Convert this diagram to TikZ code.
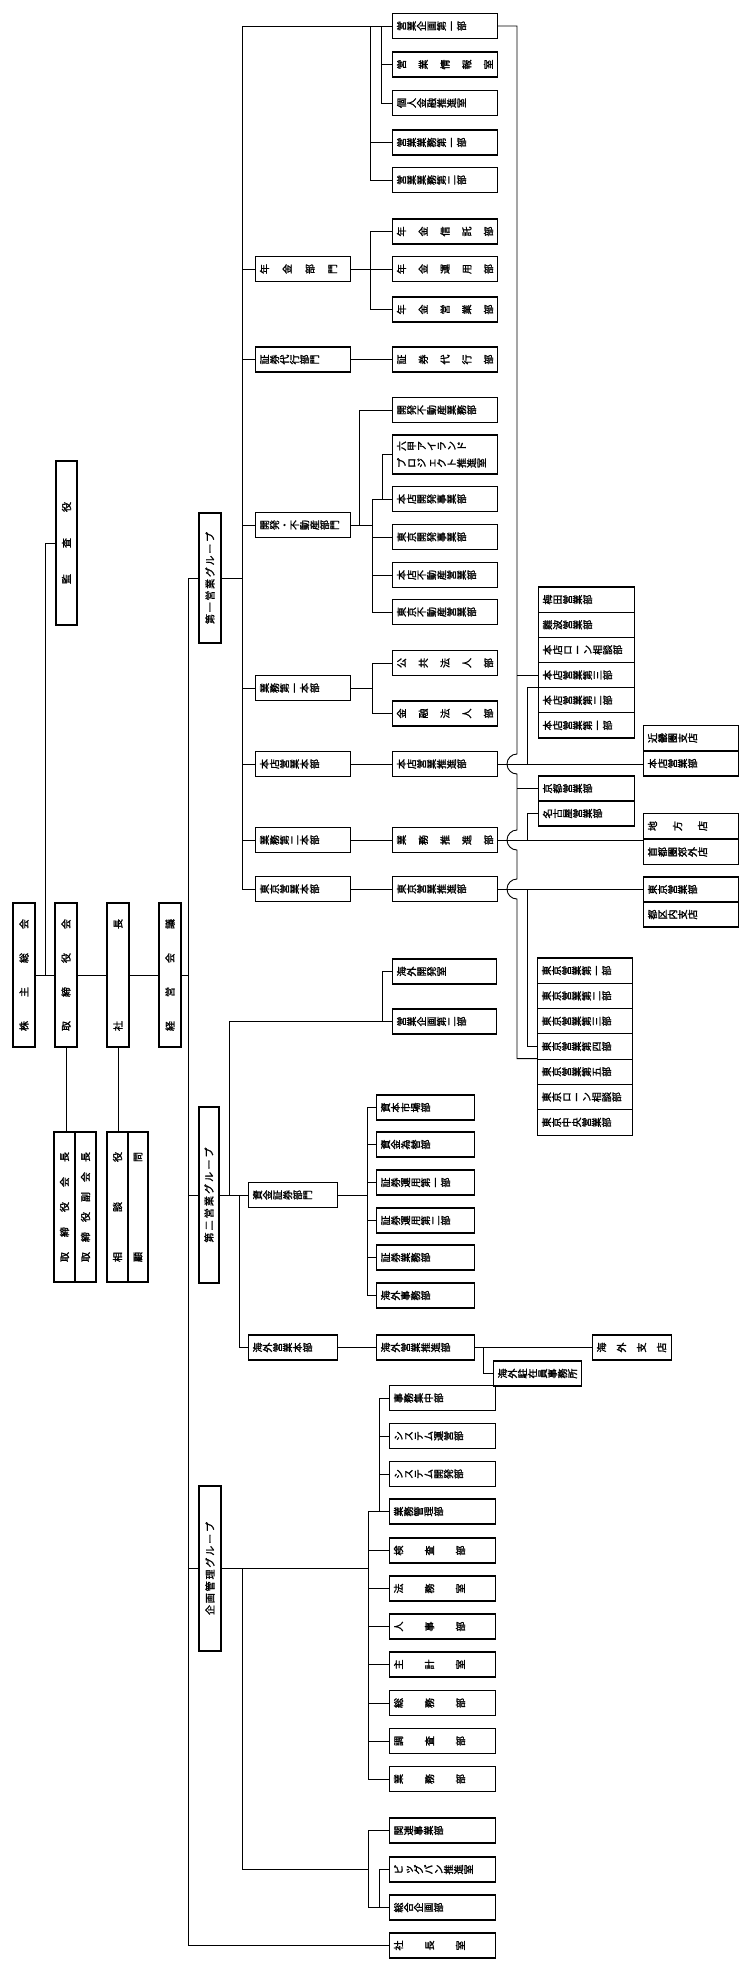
\documentclass[tikz,border=0pt]{standalone}
\usepackage{fontspec}
\usepackage{graphicx}
\newfontfamily\jp{Noto Sans CJK JP}[FakeBold=1.6]

% 縦書き（回転した文字）
\newcommand\chou{ー}
\newcommand\vch[1]{\def\tmpc{#1}\ifx\tmpc\chou\raisebox{0.1em}{ー}\else\rotatebox{90}{\rule[-0.12em]{0pt}{1em}#1}\fi}
\newcommand\vp[1]{\vploop#1\relax}
\def\vploop#1{\ifx#1\relax\else\vch{#1}\expandafter\vploop\fi}
\newcommand\vs[2]{\hbox to #1pt{\vsfirst#2\relax}}
\def\vsfirst#1{\vch{#1}\vsloop}
\def\vsloop#1{\ifx#1\relax\else\hfil\vch{#1}\expandafter\vsloop\fi}
% 横書き（均等割付）
\newcommand\hs[2]{\hbox to #1pt{\hsfirst#2\relax}}
\def\hsfirst#1{#1\hsloop}
\def\hsloop#1{\ifx#1\relax\else\hfil#1\expandafter\hsloop\fi}
% 枠の中身
\newcommand\bxp[2]{\hbox to #1pt{\hskip4pt\vp{#2}\hfil}}
\newcommand\bxs[3]{\hbox to #1pt{\hskip4pt\vs{#2}{#3}\hfil}}

\tikzstyle{every node}=[font=\jp\fontsize{10}{12}\selectfont]
\tikzstyle{waku}=[draw, line width=1.1pt, inner sep=0pt, minimum height=25pt, anchor=west]
\tikzstyle{tate}=[draw, line width=1.1pt, inner sep=0pt]

\begin{document}
\begin{tikzpicture}[x=1pt, y=-1pt, line width=0.9pt]
            \useasboundingbox (0,0) rectangle (741,1965);

            % 左侧：株主総会・取締役会・社長・経営会議
            \node[tate, minimum width=22pt, minimum height=144pt] (kabunushi) at (24,975) {\rotatebox{90}{\hs{112}{株主総会}}};
            \node[tate, minimum width=22pt, minimum height=144pt] (torishimari) at (66,975) {\rotatebox{90}{\hs{112}{取締役会}}};
            \node[tate, minimum width=22pt, minimum height=144pt] (shacho) at (118,975) {\rotatebox{90}{\hs{112}{社長}}};
            \node[tate, minimum width=22pt, minimum height=144pt] (keiei) at (170,975) {\rotatebox{90}{\hs{112}{経営会議}}};
            \node[tate, minimum width=21pt, minimum height=164pt] (kansa) at (66.5,543) {\rotatebox{90}{\hs{82}{監査役}}};
            \node[tate, minimum width=21pt, minimum height=150pt] (kaicho) at (64.5,1207) {\rotatebox{90}{\hs{110}{取締役会長}}};
            \node[tate, minimum width=21pt, minimum height=150pt] (fukukaicho) at (85.5,1207) {\rotatebox{90}{\hs{110}{取締役副会長}}};
            \node[tate, minimum width=21pt, minimum height=150pt] (sodan) at (117.5,1207) {\rotatebox{90}{\hs{110}{相談役}}};
            \node[tate, minimum width=20pt, minimum height=150pt] (komon) at (138,1207) {\rotatebox{90}{\hs{110}{顧問}}};

            \draw (kabunushi) -- (torishimari);
            \draw (torishimari) -- (shacho);
            \draw (shacho) -- (keiei);
            \coordinate (kj) at (45,975);
            \draw (kj) |- (kansa.west);
            \draw (torishimari.south) -- (torishimari.south |- kaicho.north);
            \draw (shacho.south) -- (shacho.south |- sodan.north);

            % グループ
            \node[tate, minimum width=22pt, minimum height=130pt] (g1) at (210,578) {\rotatebox{90}{\hs{92}{第一営業グループ}}};
            \node[tate, minimum width=20pt, minimum height=176pt] (g2) at (209,1195) {\rotatebox{90}{\hs{95}{第二営業グループ}}};
            \node[tate, minimum width=22pt, minimum height=165pt] (g3) at (210,1568.5) {\rotatebox{90}{\hs{93}{企画管理グループ}}};

            % 第一営業グループ：部門
            \node[waku] (nenkinbu) at (255,269) {\bxs{95}{78}{年金部門}};
            \node[waku] (shoken) at (255,359.5) {\bxp{95}{証券代行部門}};
            \node[waku] (kaihatsu) at (255,525) {\bxp{95}{開発・不動産部門}};
            \node[waku] (gyomu1) at (255,688) {\bxp{95}{業務第一本部}};
            \node[waku] (honten) at (255,764) {\bxp{95}{本店営業本部}};
            \node[waku] (gyomu2) at (255,840) {\bxp{95}{業務第二本部}};
            \node[waku] (tokyo) at (255,889) {\bxp{95}{東京営業本部}};

            % 第一営業グループ：部・室
            \node[waku] (kikaku1) at (392,26) {\bxp{105}{営業企画第一部}};
            \node[waku] (joho) at (392,64.5) {\bxs{105}{97}{営業情報室}};
            \node[waku] (kojin) at (392,103) {\bxp{105}{個人金融推進室}};
            \node[waku] (gyogyo1) at (392,142.5) {\bxp{105}{営業業務第一部}};
            \node[waku] (gyogyo2) at (392,180) {\bxp{105}{営業業務第二部}};
            \node[waku] (shintaku) at (392,231.5) {\bxs{105}{97}{年金信託部}};
            \node[waku] (unyo) at (392,269) {\bxs{105}{97}{年金運用部}};
            \node[waku] (eigyo) at (392,309.5) {\bxs{105}{97}{年金営業部}};
            \node[waku] (daiko) at (392,359.5) {\bxs{105}{97}{証券代行部}};
            \node[waku] (kfgyomu) at (392,410) {\bxp{105}{開発不動産業務部}};
            \node[waku, minimum height=39pt] (rokko) at (392,454.5) {\hbox to 105pt{\hskip4pt\vbox{\hbox{\vp{六甲アイランド}}\vskip5pt\hbox{\vp{プロジェクト推進室}}}\hfil}};
            \node[waku] (hkaihatsu) at (392,499) {\bxp{105}{本店開発事業部}};
            \node[waku] (tkaihatsu) at (392,537) {\bxp{105}{東京開発事業部}};
            \node[waku] (hfudosan) at (392,575) {\bxp{105}{本店不動産営業部}};
            \node[waku] (tfudosan) at (392,612) {\bxp{105}{東京不動産営業部}};
            \node[waku] (kokyo) at (392,663) {\bxs{105}{97}{公共法人部}};
            \node[waku] (kinyu) at (392,713.5) {\bxs{105}{97}{金融法人部}};
            \node[waku] (hsuishin) at (392,764) {\bxp{105}{本店営業推進部}};
            \node[waku] (gsuishin) at (392,840) {\bxs{105}{97}{業務推進部}};
            \node[waku] (tsuishin) at (392,889) {\bxp{105}{東京営業推進部}};

            % 営業部・支店
            \node[waku, minimum height=25.2pt] (o1) at (538,599.6) {\bxp{96}{梅田営業部}};
            \node[waku, minimum height=25.2pt] (o2) at (538,624.8) {\bxp{96}{難波営業部}};
            \node[waku, minimum height=25.2pt] (o3) at (538,649.9) {\bxp{96}{本店ローン相談部}};
            \node[waku, minimum height=25.2pt] (o4) at (538,675.1) {\bxp{96}{本店営業第三部}};
            \node[waku, minimum height=25.2pt] (o5) at (538,700.3) {\bxp{96}{本店営業第二部}};
            \node[waku, minimum height=25.2pt] (o6) at (538,725.4) {\bxp{96}{本店営業第一部}};
            \node[waku] (k1) at (538,788.5) {\bxp{96}{京都営業部}};
            \node[waku] (k2) at (538,813.5) {\bxp{96}{名古屋営業部}};
            \node[waku] (kinki) at (643,738) {\bxp{95}{近畿圏支店}};
            \node[waku] (honbu) at (643,763.5) {\bxp{95}{本店営業部}};
            \node[waku] (chiho) at (643,826) {\bxs{95}{60}{地方店}};
            \node[waku] (shuto) at (643,852) {\bxp{95}{首都圏郊外店}};
            \node[waku] (tokyoeigyo) at (643,889.5) {\bxp{95}{東京営業部}};
            \node[waku] (toku) at (643,914.5) {\bxp{95}{都区内支店}};
            \node[waku, minimum height=25.3pt] (t1) at (537,970.6) {\bxp{95}{東京営業第一部}};
            \node[waku, minimum height=25.3pt] (t2) at (537,995.9) {\bxp{95}{東京営業第二部}};
            \node[waku, minimum height=25.3pt] (t3) at (537,1021.2) {\bxp{95}{東京営業第三部}};
            \node[waku, minimum height=25.3pt] (t4) at (537,1046.5) {\bxp{95}{東京営業第四部}};
            \node[waku, minimum height=25.3pt] (t5) at (537,1071.8) {\bxp{95}{東京営業第五部}};
            \node[waku, minimum height=25.3pt] (t6) at (537,1097.1) {\bxp{95}{東京ローン相談部}};
            \node[waku, minimum height=25.3pt] (t7) at (537,1122.4) {\bxp{95}{東京中央営業部}};

            % 第二営業グループ
            \node[waku] (kaihatsushitsu) at (392,971.5) {\bxp{104}{海外開発室}};
            \node[waku] (kikaku2) at (392,1021.5) {\bxp{104}{営業企画第二部}};
            \node[waku] (shikin) at (248,1195) {\bxp{89}{資金証券部門}};
            \node[waku] (kaigai) at (248,1347.5) {\bxp{89}{海外営業本部}};
            \node[waku] (shihon) at (376,1107.5) {\bxp{98}{資本市場部}};
            \node[waku] (kawase) at (376,1144.5) {\bxp{98}{資金為替部}};
            \node[waku] (unyo1) at (376,1182.5) {\bxp{98}{証券運用第一部}};
            \node[waku] (unyo2) at (376,1220.5) {\bxp{98}{証券運用第二部}};
            \node[waku] (shogyo) at (376,1257.5) {\bxp{98}{証券業務部}};
            \node[waku] (jimu) at (376,1295.5) {\bxp{98}{海外事務部}};
            \node[waku] (ksuishin) at (376,1347.5) {\bxp{98}{海外営業推進部}};
            \node[waku] (shiten) at (592,1347.5) {\bxs{79}{70}{海外支店}};
            \node[waku] (chuzai) at (493,1373.5) {\bxp{88}{海外駐在員事務所}};

            % 企画管理グループ
            \node[waku] (jimushu) at (389,1398) {\bxp{106}{事務集中部}};
            \node[waku] (sysunei) at (389,1436) {\bxp{106}{システム運営部}};
            \node[waku] (syskai) at (389,1474) {\bxp{106}{システム開発部}};
            \node[waku] (gkanri) at (389,1511.5) {\bxp{106}{業務管理部}};
            \node[waku] (kensa) at (389,1550.5) {\bxs{106}{72}{検査部}};
            \node[waku] (homu) at (389,1588.5) {\bxs{106}{72}{法務室}};
            \node[waku] (jinji) at (389,1626.5) {\bxs{106}{72}{人事部}};
            \node[waku] (shukei) at (389,1664.5) {\bxs{106}{72}{主計室}};
            \node[waku] (somu) at (389,1703) {\bxs{106}{72}{総務部}};
            \node[waku] (chosa) at (389,1741) {\bxs{106}{72}{調査部}};
            \node[waku] (gyomubu) at (389,1779) {\bxs{106}{72}{業務部}};
            \node[waku] (kanren) at (389,1830.5) {\bxp{106}{関連事業部}};
            \node[waku] (bigban) at (389,1869.5) {\bxp{106}{ビッグバン推進室}};
            \node[waku] (sogo) at (389,1907.5) {\bxp{106}{総合企画部}};
            \node[waku] (shitsu) at (389,1945.5) {\bxs{106}{72}{社長室}};

            % 幹線
            \coordinate (trunk) at (188,0);
            \draw (g1.west) -| (trunk |- shitsu.west) -- (shitsu.west);
            \draw (g2.west) -- (g2.west -| trunk);
            \draw (g3.west) -- (g3.west -| trunk);
            \draw (keiei.east) -- (keiei.east -| trunk);

            % 第一営業グループの線
            \coordinate (b1) at (242,0);
            \draw (kikaku1.west) -| (b1 |- tokyo.west) -- (tokyo.west);
            \draw (g1.east) -- (g1.east -| b1);
            \draw (nenkinbu.west) -- (nenkinbu.west -| b1);
            \draw (shoken.west) -- (shoken.west -| b1);
            \draw (kaihatsu.west) -- (kaihatsu.west -| b1);
            \draw (gyomu1.west) -- (gyomu1.west -| b1);
            \draw (honten.west) -- (honten.west -| b1);
            \draw (gyomu2.west) -- (gyomu2.west -| b1);
            \coordinate (c1) at (370,0);
            \coordinate (c2) at (381,0);
            \draw (c1 |- kikaku1.west) |- (gyogyo2.west);
            \draw (gyogyo1.west) -- (gyogyo1.west -| c1);
            \draw (c2 |- kikaku1.west) |- (kojin.west);
            \draw (joho.west) -- (joho.west -| c2);
            \draw (nenkinbu) -- (unyo);
            \draw (shintaku.west) -| (c1 |- eigyo.west) -- (eigyo.west);
            \draw (shoken) -- (daiko);
            \coordinate (c4) at (359,0);
            \coordinate (c5) at (372,0);
            \coordinate (c6) at (382,0);
            \draw (kaihatsu.east) -- (kaihatsu.east -| c5);
            \draw (c4 |- kaihatsu.east) |- (kfgyomu.west);
            \draw (hkaihatsu.west) -| (c5 |- tfudosan.west) -- (tfudosan.west);
            \draw (tkaihatsu.west) -- (tkaihatsu.west -| c5);
            \draw (hfudosan.west) -- (hfudosan.west -| c5);
            \draw (c6 |- hkaihatsu.west) |- (rokko.west);
            \draw (gyomu1.east) -- (gyomu1.east -| c5);
            \draw (kokyo.west) -| (c5 |- kinyu.west) -- (kinyu.west);
            \draw (honten) -- (hsuishin);
            \draw (gyomu2) -- (gsuishin);
            \draw (tokyo) -- (tsuishin);
            \draw (hsuishin.east) -- (hsuishin.east -| honbu.west);
            \draw (gsuishin.east) -- (gsuishin.east -| chiho.west);
            \draw (tsuishin.east) -- (tsuishin.east -| tokyoeigyo.west);

            % 営業企画第一部からの線（交差は半円で跨ぐ）
            \coordinate (A) at (517,0);
            \coordinate (B) at (527,0);
            \draw (kikaku1.east) -| ([yshift=10pt]A |- hsuishin.east)
                arc[start angle=90, end angle=270, radius=10pt]
                -- ([yshift=10pt]A |- gsuishin.east)
                arc[start angle=90, end angle=270, radius=10pt]
                -- ([yshift=10pt]A |- tsuishin.east)
                arc[start angle=90, end angle=270, radius=10pt]
                |- (t5.north west);
            \draw (o4.west) -- (o4.west -| A);
            \draw (k1.west) -- (k1.west -| A);
            \draw (B |- hsuishin.east) |- (o5.north west);
            \draw (B |- gsuishin.east) |- (k2.west);
            \draw (B |- tsuishin.east) |- (t4.west);

            % 第二営業グループの線
            \coordinate (d1) at (229,0);
            \coordinate (d2) at (239,0);
            \coordinate (d3) at (382,0);
            \coordinate (d4) at (367,0);
            \coordinate (d5) at (483,0);
            \draw (g2.east) -- (shikin.west);
            \draw (d1 |- g2.east) |- (kikaku2.west);
            \draw (d2 |- g2.east) |- (kaigai.west);
            \draw (kaihatsushitsu.west) -| (d3 |- kikaku2.west);
            \draw (shikin.east) -- (shikin.east -| d4);
            \draw (shihon.west) -| (d4 |- jimu.west) -- (jimu.west);
            \draw (kawase.west) -- (kawase.west -| d4);
            \draw (unyo1.west) -- (unyo1.west -| d4);
            \draw (unyo2.west) -- (unyo2.west -| d4);
            \draw (shogyo.west) -- (shogyo.west -| d4);
            \draw (kaigai) -- (ksuishin);
            \draw (ksuishin) -- (shiten);
            \draw (d5 |- ksuishin.east) |- (chuzai.west);

            % 企画管理グループの線
            \coordinate (e0) at (242,0);
            \coordinate (e1) at (368,0);
            \coordinate (e2) at (379,0);
            \draw (g3.east) -- (g3.east -| e1);
            \draw (gkanri.west) -| (e1 |- gyomubu.west) -- (gyomubu.west);
            \draw (kensa.west) -- (kensa.west -| e1);
            \draw (homu.west) -- (homu.west -| e1);
            \draw (jinji.west) -- (jinji.west -| e1);
            \draw (shukei.west) -- (shukei.west -| e1);
            \draw (somu.west) -- (somu.west -| e1);
            \draw (chosa.west) -- (chosa.west -| e1);
            \draw (jimushu.west) -| (e2 |- gkanri.west);
            \draw (sysunei.west) -- (sysunei.west -| e2);
            \draw (syskai.west) -- (syskai.west -| e2);
            \draw (e0 |- g3.east) |- (e1 |- bigban.west);
            \draw (kanren.west) -| (e1 |- sogo.west) -- (sogo.west);
            \draw (bigban.west) -| (e2 |- sogo.west);
        \end{tikzpicture}
\end{document}
